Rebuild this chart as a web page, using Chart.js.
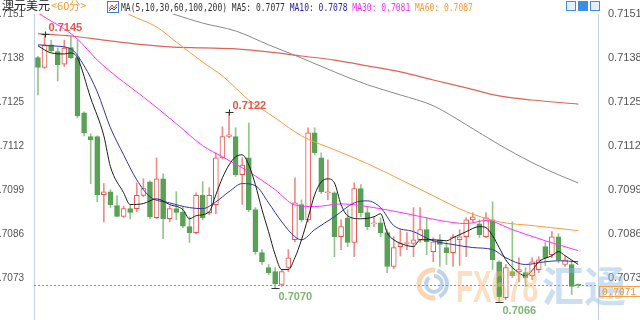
<!DOCTYPE html>
<html>
<head>
<meta charset="utf-8">
<script src="https://cdn.jsdelivr.net/npm/chart.js@4.4.0/dist/chart.umd.min.js"></script>
<style>
  body { margin: 0; background: #fff; }
</style>
</head>
<body>
<canvas id="chart" width="640" height="320"></canvas>
<script>
const title = '澳元美元';
const period = '<60分>';

// candles, one per 60 min bar
const openP = [0.71381,0.71352,0.71419,0.71399,0.71362,0.71411,0.71381,0.71218,0.71148,0.71148,
  0.70976,0.70985,0.70944,0.70912,0.70935,0.70935,0.70974,0.71014,0.70908,0.71023,
  0.70905,0.70935,0.70924,0.70882,0.70864,0.70974,0.70923,0.70947,0.71085,0.71148,
  0.71148,0.71035,0.71085,0.70932,0.70805,0.70761,0.70749,0.70711,0.70761,0.70843,
  0.70947,0.70902,0.71159,0.71085,0.70982,0.70982,0.70852,0.70908,0.70835,0.70994,
  0.70923,0.70890,0.70893,0.70864,0.70764,0.70823,0.70832,0.70832,0.70843,0.70873,
  0.70808,0.70843,0.70820,0.70805,0.70843,0.70852,0.70902,0.70890,0.70852,0.70902,
  0.70778,0.70672,0.70749,0.70749,0.70746,0.70737,0.70755,0.70823,0.70799,0.70852,
  0.70770,0.70770,0.70712];
const highP = [0.71385,0.71450,0.71433,0.71410,0.71433,0.71445,0.71433,0.71221,0.71156,0.71150,
  0.71009,0.70991,0.70973,0.70943,0.70947,0.71011,0.71023,0.71017,0.71085,0.71038,
  0.70943,0.70985,0.70942,0.70911,0.70982,0.71015,0.70997,0.71100,0.71177,0.71220,
  0.71174,0.71085,0.71188,0.70938,0.70814,0.70770,0.70761,0.70755,0.70814,0.71026,
  0.70961,0.71174,0.71174,0.71100,0.71079,0.70985,0.70902,0.70932,0.71011,0.71006,
  0.70938,0.70911,0.70908,0.70873,0.70852,0.70873,0.70864,0.70938,0.70938,0.70908,
  0.70849,0.70858,0.70835,0.70858,0.70873,0.70908,0.70923,0.70902,0.70923,0.70955,
  0.70781,0.70770,0.70896,0.70790,0.70761,0.70790,0.70793,0.70835,0.70867,0.70861,
  0.70793,0.70778,0.70712];
const lowP = [0.71271,0.71349,0.71398,0.71312,0.71355,0.71378,0.71203,0.71150,0.71009,0.70955,
  0.70896,0.70938,0.70911,0.70909,0.70905,0.70926,0.70970,0.70905,0.70905,0.70846,
  0.70896,0.70902,0.70879,0.70835,0.70861,0.70902,0.70917,0.70920,0.71082,0.71145,
  0.71030,0.70947,0.70926,0.70800,0.70770,0.70740,0.70700,0.70705,0.70749,0.70837,
  0.70896,0.70896,0.71094,0.70979,0.70961,0.70793,0.70814,0.70823,0.70793,0.70911,
  0.70873,0.70882,0.70852,0.70746,0.70758,0.70795,0.70814,0.70793,0.70835,0.70799,
  0.70778,0.70764,0.70770,0.70764,0.70767,0.70793,0.70896,0.70849,0.70849,0.70755,
  0.70660,0.70666,0.70731,0.70719,0.70705,0.70725,0.70746,0.70767,0.70790,0.70775,
  0.70764,0.70681,0.70702];
const closeP = [0.71352,0.71419,0.71401,0.71360,0.71409,0.71381,0.71209,0.71159,0.71138,0.70976,
  0.70985,0.70947,0.70912,0.70935,0.70924,0.70974,0.70994,0.70911,0.71023,0.70905,
  0.70935,0.70924,0.70883,0.70864,0.70974,0.70908,0.70974,0.71085,0.71148,0.71153,
  0.71035,0.71064,0.70932,0.70808,0.70778,0.70746,0.70713,0.70749,0.70790,0.70952,
  0.70902,0.71159,0.71100,0.70985,0.70985,0.70852,0.70882,0.70835,0.70994,0.70923,
  0.70882,0.70893,0.70864,0.70764,0.70820,0.70832,0.70835,0.70843,0.70873,0.70837,
  0.70837,0.70829,0.70805,0.70852,0.70852,0.70902,0.70911,0.70858,0.70908,0.70784,
  0.70675,0.70761,0.70737,0.70755,0.70731,0.70778,0.70784,0.70790,0.70852,0.70784,
  0.70784,0.70705,0.70708];

// moving averages as [bar, value]
const ma5 = [[1,0.71416],[3,0.71395],[5,0.71392],[6,0.71395],[7,0.71380],[9,0.71262],[11,0.71150],[12,0.71059],
  [14,0.70982],[15,0.70947],[17,0.70950],[19,0.70964],[21,0.70947],[23,0.70932],[24,0.70905],[25,0.70914],
  [27,0.70926],[28,0.70976],[29,0.71026],[30,0.71064],[31,0.71088],[32,0.71094],[33,0.71064],[34,0.71006],
  [35,0.70932],[36,0.70867],[37,0.70799],[38,0.70755],[39,0.70755],[40,0.70790],[41,0.70843],[42,0.70908],
  [43,0.70976],[44,0.71014],[45,0.71023],[46,0.71011],[47,0.70947],[48,0.70914],[50,0.70905],[52,0.70911],
  [53,0.70920],[54,0.70864],[55,0.70843],[57,0.70826],[58,0.70823],[59,0.70843],[61,0.70843],[63,0.70840],
  [64,0.70849],[66,0.70867],[68,0.70882],[69,0.70879],[70,0.70855],[71,0.70820],[72,0.70784],[73,0.70761],
  [75,0.70737],[76,0.70752],[77,0.70778],[79,0.70796],[80,0.70808],[81,0.70796],[83,0.70770]];
const ma10 = [[1,0.71419],[3,0.71416],[6,0.71407],[8,0.71357],[10,0.71280],[12,0.71174],[14,0.71094],[16,0.71020],
  [18,0.70970],[21,0.70952],[24,0.70938],[26,0.70935],[28,0.70955],[30,0.70985],[32,0.71009],[34,0.71003],
  [36,0.70952],[38,0.70896],[40,0.70852],[41,0.70843],[43,0.70873],[46,0.70911],[49,0.70952],[51,0.70958],
  [53,0.70938],[55,0.70885],[58,0.70867],[61,0.70840],[64,0.70829],[67,0.70820],[70,0.70814],[72,0.70790],
  [75,0.70770],[78,0.70778],[80,0.70781],[83,0.70778]];
const ma30 = [[1,0.71513],[3,0.71489],[5,0.71466],[7,0.71436],[10,0.71374],[13,0.71324],[17,0.71265],[22,0.71186],
  [26,0.71121],[29,0.71088],[33,0.71044],[37,0.70991],[40,0.70946],[43,0.70941],[47,0.70949],[52,0.70938],
  [57,0.70920],[62,0.70900],[66,0.70891],[69,0.70900],[73,0.70873],[78,0.70840],[83,0.70811]];
const ma60 = [[12,0.71540],[15,0.71507],[19,0.71472],[22,0.71427],[26,0.71368],[29,0.71327],[33,0.71256],[37,0.71203],
  [41,0.71150],[46,0.71109],[51,0.71068],[56,0.71021],[61,0.70973],[66,0.70926],[71,0.70896],[76,0.70885],[83,0.70870]];
const ma100 = [[16,0.71540],[19,0.71525],[22,0.71507],[26,0.71483],[31,0.71460],[36,0.71419],[41,0.71380],[46,0.71339],
  [51,0.71301],[56,0.71271],[61,0.71239],[66,0.71183],[71,0.71124],[76,0.71071],[80,0.71035],[83,0.71011]];
const ma200 = [[1,0.71452],[6,0.71445],[11,0.71433],[16,0.71421],[21,0.71413],[26,0.71410],[31,0.71407],[36,0.71398],
  [41,0.71386],[46,0.71374],[51,0.71357],[56,0.71339],[61,0.71315],[66,0.71292],[71,0.71268],[76,0.71256],[83,0.71244]];

const yTicks = [0.7073, 0.7086, 0.7099, 0.7112, 0.7125, 0.7138, 0.7151];
const lastPrice = 0.7071;
const markIdx = [2, 30, 37, 71];
const markSide = ['high', 'high', 'low', 'low'];

const UP = '#e5534b', UP_WICK = '#ee8d88', DOWN = '#58a156', DOWN_WICK = '#93c68d';
const bars = openP.map((o, i) => i + 1);
const isUp = bars.map((b, i) => closeP[i] >= openP[i]);

function line(pts, color, width) {
  return {
    type: 'line', order: 0,
    data: pts.map(p => ({ x: p[0], y: p[1] })),
    borderColor: color, borderWidth: width || 1,
    pointRadius: 0, cubicInterpolationMode: 'monotone', fill: false
  };
}

function yAxis(pos, w, size) {
  return {
    position: pos, min: 0.70606, max: 0.7151,
    afterBuildTicks: s => { s.ticks = yTicks.map(v => ({ value: v })); },
    afterFit: s => { s.width = w; s.paddingTop = 0; s.paddingBottom = 0; },
    grid: { display: false },
    border: { display: true, color: '#c3d2e6', dash: [1, 2] },
    ticks: { color: '#555', padding: 2, font: { family: 'Liberation Sans', size: size },
      callback: v => v.toFixed(4) }
  };
}

const overlay = {
  id: 'overlay',
  beforeDatasetsDraw(chart) {
    const { ctx, chartArea: a, scales } = chart;
    const py = Math.round(scales.y.getPixelForValue(lastPrice)) + 0.5;
    ctx.save();
    ctx.strokeStyle = '#4a9ff0';
    ctx.setLineDash([2, 2]);
    ctx.beginPath(); ctx.moveTo(a.left, py); ctx.lineTo(a.right, py); ctx.stroke();
    ctx.restore();
  },
  afterDatasetsDraw(chart) {
    const { ctx, scales } = chart;
    ctx.save();
    // high / low marks
    markIdx.forEach((b, k) => {
      const high = markSide[k] === 'high';
      const v = high ? highP[b - 1] : lowP[b - 1];
      const px = Math.round(scales.x.getPixelForValue(b)) + 0.5;
      const py = Math.round(scales.y.getPixelForValue(v)) + 0.5;
      ctx.strokeStyle = '#333';
      ctx.lineWidth = 1;
      ctx.beginPath();
      ctx.moveTo(px - 4, py); ctx.lineTo(px + 4, py);
      if (high) { ctx.moveTo(px, py - 3); ctx.lineTo(px, py + 3); }
      ctx.stroke();
      ctx.font = 'bold 11px "Liberation Sans"';
      ctx.fillStyle = high ? '#e4554f' : '#7db76f';
      ctx.textBaseline = high ? 'bottom' : 'top';
      ctx.fillText(v.toFixed(4), px + 3, high ? py - 1 : py + 3);
    });

    // watermark
    ctx.globalAlpha = 0.45;
    ctx.lineWidth = 5;
    ctx.strokeStyle = '#f3a35c';
    ctx.beginPath(); ctx.arc(433, 284, 14, 0.45 * Math.PI, 1.55 * Math.PI); ctx.stroke();
    ctx.strokeStyle = '#6f9fd6';
    ctx.lineWidth = 4;
    ctx.beginPath(); ctx.arc(434, 284, 8, -0.5 * Math.PI, 1.3 * Math.PI); ctx.stroke();
    ctx.beginPath(); ctx.arc(433, 284, 14, -0.4 * Math.PI, 0.35 * Math.PI); ctx.stroke();
    ctx.textBaseline = 'alphabetic';
    ctx.fillStyle = '#f7b877';
    ctx.font = 'bold 44px "Liberation Sans"';
    ctx.fillText('FX678', 456, 302, 82);
    ctx.fillStyle = '#8db6e3';
    ctx.font = 'bold 42px "Noto Sans CJK SC"';
    ctx.fillText('汇通', 542, 302, 92);
    ctx.restore();
  },
  afterDraw(chart) {
    const { ctx, chartArea: a, scales } = chart;
    ctx.save();
    ctx.textBaseline = 'alphabetic';
    ctx.font = '12px "Noto Sans CJK SC"';
    ctx.fillStyle = '#222';
    ctx.fillText(title, 2, 10);
    ctx.fillStyle = '#f39c26';
    ctx.font = '11px "Noto Sans CJK SC"';
    ctx.fillText(period, 51, 10, 50);
    // little indicator icon
    ctx.strokeStyle = '#3b7fd0';
    ctx.strokeRect(107.5, 1.5, 11, 11);
    ctx.strokeStyle = '#d33';
    ctx.beginPath(); ctx.moveTo(109, 9); ctx.lineTo(112, 5); ctx.lineTo(114, 8); ctx.lineTo(117, 4); ctx.stroke();
    ctx.strokeStyle = '#33c';
    ctx.beginPath(); ctx.moveTo(109, 11); ctx.lineTo(112, 8); ctx.lineTo(114, 10); ctx.lineTo(117, 7); ctx.stroke();

    // MA text, monospaced and narrow
    const cw = 4.82, x0 = 121;
    const parts = [
      ['MA(5,10,30,60,100,200) MA5: ' + ma5.at(-1)[1].toFixed(4) + ' ', '#333'],
      ['MA10: ' + ma10.at(-1)[1].toFixed(4) + ' ', '#2626a6'],
      ['MA30: ' + ma30.at(-1)[1].toFixed(4) + ' ', '#ff2dff'],
      ['MA60: ' + ma60.at(-1)[1].toFixed(4), '#ff9a33']
    ];
    ctx.font = '11px "DejaVu Sans Mono"';
    let c = 0;
    parts.forEach(([t, col]) => {
      ctx.fillStyle = col;
      const s = t.trimEnd();
      ctx.fillText(s, x0 + c * cw, 11, s.length * cw);
      c += t.length;
    });

    // top right buttons
    [566, 578, 590].forEach((bx, k) => {
      ctx.fillStyle = k === 1 ? '#3f8fe0' : '#e6f0fb';
      ctx.fillRect(bx, 1, 10, 10);
      ctx.strokeStyle = '#3f8fe0';
      ctx.strokeRect(bx + 0.5, 1.5, 9, 9);
    });

    // last price box
    const py = Math.round(scales.y.getPixelForValue(lastPrice)) + 0.5;
    ctx.strokeStyle = '#f3a040';
    ctx.strokeRect(a.right + 1.5, py + 1, 41, 10);
    ctx.fillStyle = '#f39030';
    ctx.font = '10px "Liberation Mono"';
    ctx.textBaseline = 'top';
    ctx.fillText(lastPrice.toFixed(4), a.right + 4, py + 2, 34);
    ctx.restore();
  }
};

new Chart(document.getElementById('chart'), {
  type: 'bar',
  data: {
    datasets: [
      line(ma5, '#1c1c1c'),
      line(ma10, '#3333aa'),
      line(ma30, '#ff33ff'),
      line(ma60, '#ff9a3c'),
      line(ma100, '#8a8a8a'),
      line(ma200, '#de6458', 1.2),
      {
        order: 1, grouped: false, barThickness: 5, minBarLength: 1,
        data: bars.map((b, i) => ({ x: b, y: [openP[i], closeP[i]] })),
        backgroundColor: isUp.map(u => u ? '#ffffff' : DOWN),
        borderColor: isUp.map(u => u ? UP : DOWN),
        borderWidth: 1, borderSkipped: false
      },
      {
        order: 2, grouped: false, barThickness: 1,
        data: bars.map((b, i) => ({ x: b, y: [lowP[i], highP[i]] })),
        backgroundColor: isUp.map(u => u ? UP_WICK : DOWN_WICK),
        borderWidth: 0
      }
    ]
  },
  options: {
    responsive: false,
    animation: false,
    layout: { padding: { top: 14, left: 0, right: 0, bottom: 0 } },
    plugins: { legend: { display: false }, tooltip: { enabled: false } },
    scales: {
      x: { type: 'linear', display: false, min: 0.4, max: 86, offset: false },
      y: yAxis('left', 34, 10),
      y2: yAxis('right', 42, 11)
    }
  },
  plugins: [overlay]
});
</script>
</body>
</html>
